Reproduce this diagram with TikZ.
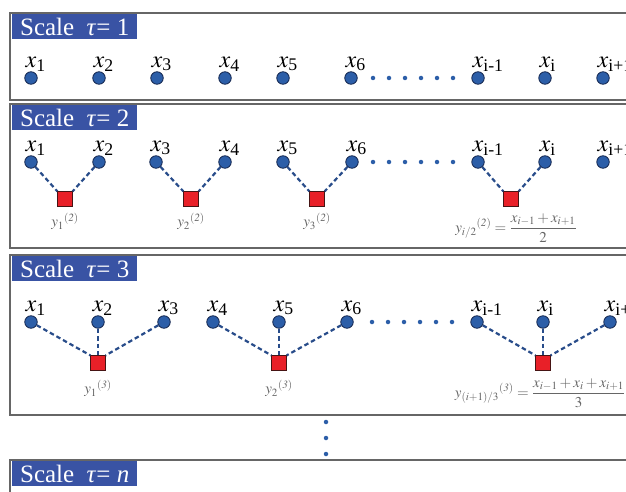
\documentclass[tikz,border=0pt]{standalone}
\usepackage{amsmath}
\usepackage{mathptmx}
\usepackage{fontspec}
\setmainfont{Liberation Serif}
\usetikzlibrary{positioning}

\definecolor{hdrblue}{RGB}{57,83,164}
\definecolor{ptblue}{RGB}{44,94,168}
\definecolor{ptedge}{RGB}{22,40,80}
\definecolor{linkblue}{RGB}{40,76,138}
\definecolor{sqred}{RGB}{232,32,40}
\definecolor{sqedge}{RGB}{70,20,20}

% x label: italic x, upright subscript hanging to the right
\newcommand{\xl}[1]{$x\rlap{$_{\textrm{#1}}$}$}

\begin{document}
\begin{tikzpicture}[x=1pt,y=-1pt,
    panel/.style={draw=black!60,line width=1.5pt},
    hdr/.style={anchor=north west,fill=hdrblue,text=white,inner sep=0pt,
      minimum width=125pt,minimum height=25pt,font=\fontsize{25}{25}\selectfont},
    pt/.style={circle,draw=ptedge,fill=ptblue,line width=0.8pt,
      minimum size=12.5pt,inner sep=0pt,label distance=5pt},
    every label/.style={inner sep=0pt,font=\fontsize{24}{24}\selectfont},
    sq/.style={rectangle,draw=sqedge,fill=sqred,line width=0.8pt,
      minimum size=14.5pt,inner sep=0pt},
    link/.style={draw=linkblue,line width=2.2pt,dash pattern=on 4.5pt off 3pt},
    ellip/.style={draw=ptblue,line width=4.5pt,line cap=round,dash pattern=on 0pt off 16pt},
    ylab/.style={text=black!60,font=\fontsize{15}{15}\selectfont}]
  \clip (0,0) rectangle (626,492);

  % scale 1
  \draw[panel] (10,13) rectangle (640,100);
  \node[hdr] (h1) at (12,14) {Scale\ \ \textit{τ}= 1};
  \node[pt,label={above:\xl{1}}] (a1) at (31,78) {};
  \node[pt,label={above:\xl{2}}] (a2) at (99,78) {};
  \node[pt,label={above:\xl{3}}] (a3) at (157,78) {};
  \node[pt,label={above:\xl{4}}] (a4) at (225,78) {};
  \node[pt,label={above:\xl{5}}] (a5) at (283,78) {};
  \node[pt,label={above:\xl{6}}] (a6) at (351,78) {};
  \node[pt,label={above:\xl{i-1}}] (a7) at (478,78) {};
  \node[pt,label={above:\xl{i}}] (a8) at (545,78) {};
  \node[pt,label={above:\xl{i+1}}] (a9) at (603,78) {};
  \draw[ellip] ([xshift=22pt]a6.center) -- ([xshift=-24.5pt]a7.center);

  % scale 2
  \draw[panel] (10,104) rectangle (640,248);
  \node[hdr] (h2) at (12,105) {Scale\ \ \textit{τ}= 2};
  \node[pt,label={above:\xl{1}}] (b1) at (31,162) {};
  \node[pt,label={above:\xl{2}}] (b2) at (99,162) {};
  \node[pt,label={above:\xl{3}}] (b3) at (156,162) {};
  \node[pt,label={above:\xl{4}}] (b4) at (225,162) {};
  \node[pt,label={above:\xl{5}}] (b5) at (283,162) {};
  \node[pt,label={above:\xl{6}}] (b6) at (352,162) {};
  \node[pt,label={above:\xl{i-1}}] (b7) at (478,162) {};
  \node[pt,label={above:\xl{i}}] (b8) at (545,162) {};
  \node[pt,label={above:\xl{i+1}}] (b9) at (603,162) {};
  \draw[ellip] ([xshift=21pt]b6.center) -- ([xshift=-24.5pt]b7.center);
  \node[sq] (s1) at (65,199) {};
  \node[sq] (s2) at (191,199) {};
  \node[sq] (s3) at (317,199) {};
  \node[sq] (s4) at (511,199) {};
  \draw[link] (b1) -- (s1.north west);
  \draw[link] (b2) -- (s1.north east);
  \draw[link] (b3) -- (s2.north west);
  \draw[link] (b4) -- (s2.north east);
  \draw[link] (b5) -- (s3.north west);
  \draw[link] (b6) -- (s3.north east);
  \draw[link] (b7) -- (s4.north west);
  \draw[link] (b8) -- (s4.north east);
  \node[ylab,below=3pt of s1] (y1) {$y_1{}^{\mathit{(2)}}$};
  \node[ylab,below=3pt of s2] (y2) {$y_2{}^{\mathit{(2)}}$};
  \node[ylab,below=3pt of s3] (y3) {$y_3{}^{\mathit{(2)}}$};
  \node[ylab] (f2) at (516,228) {$y_{i/2}{}^{\mathit{(2)}}=\dfrac{x_{i-1}+x_{i+1}}{2}$};

  % scale 3
  \draw[panel] (10,255) rectangle (640,415);
  \node[hdr] (h3) at (12,256) {Scale\ \ \textit{τ}= 3};
  \node[pt,label={above:\xl{1}}] (c1) at (31,322) {};
  \node[pt,label={above:\xl{2}}] (c2) at (98,322) {};
  \node[pt,label={above:\xl{3}}] (c3) at (164,322) {};
  \node[pt,label={above:\xl{4}}] (c4) at (213,322) {};
  \node[pt,label={above:\xl{5}}] (c5) at (279,322) {};
  \node[pt,label={above:\xl{6}}] (c6) at (347,322) {};
  \node[pt,label={above:\xl{i-1}}] (c7) at (477,322) {};
  \node[pt,label={above:\xl{i}}] (c8) at (543,322) {};
  \node[pt,label={above:\xl{i+1}}] (c9) at (610,322) {};
  \draw[ellip] ([xshift=25pt]c6.center) -- ([xshift=-23.5pt]c7.center);
  \node[sq] (r1) at (98,363) {};
  \node[sq] (r2) at (279,363) {};
  \node[sq] (r3) at (543,363) {};
  \draw[link] (c1) -- (r1.north west);
  \draw[link] (c2) -- (r1.north);
  \draw[link] (c3) -- (r1.north east);
  \draw[link] (c4) -- (r2.north west);
  \draw[link] (c5) -- (r2.north);
  \draw[link] (c6) -- (r2.north east);
  \draw[link] (c7) -- (r3.north west);
  \draw[link] (c8) -- (r3.north);
  \draw[link] (c9) -- (r3.north east);
  \node[ylab,below=6pt of r1] (z1) {$y_1{}^{\mathit{(3)}}$};
  \node[ylab,below=6pt of r2] (z2) {$y_2{}^{\mathit{(3)}}$};
  \node[ylab] (f3) at (540,393) {$y_{(i+1)/3}{}^{\mathit{(3)}}=\dfrac{x_{i-1}+x_i+x_{i+1}}{3}$};

  % more scales
  \coordinate (v1) at (326,422);
  \coordinate (v2) at (326,454.5);
  \draw[ellip] (v1) -- (v2);

  % scale n
  \draw[panel] (10,460) rectangle (640,520);
  \node[hdr] (h4) at (12,461) {Scale\ \ \textit{τ}= \textit{n}};
\end{tikzpicture}
\end{document}
